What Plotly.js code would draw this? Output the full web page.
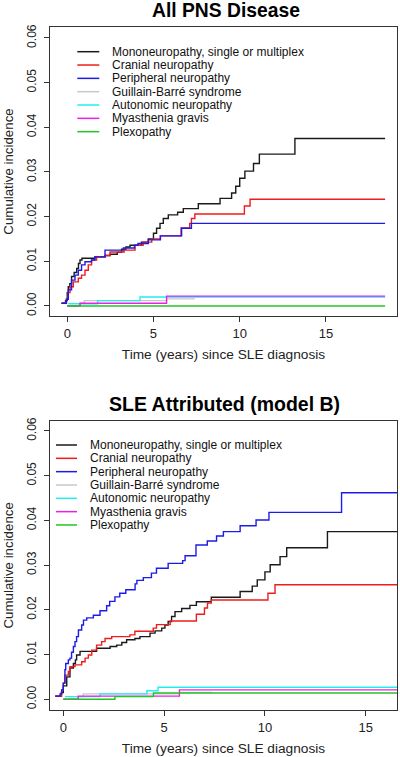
<!DOCTYPE html>
<html><head><meta charset="utf-8">
<script src="https://cdn.plot.ly/plotly-3.0.1.min.js"></script>
<style>html,body{margin:0;padding:0;background:#fff}#chart{width:400px;height:757px}</style>
</head><body><div id="chart"></div>
<script>
// ---- Data ----
const seriesNames = ["Mononeuropathy, single or multiplex","Cranial neuropathy","Peripheral neuropathy","Guillain-Barré syndrome","Autonomic neuropathy","Myasthenia gravis","Plexopathy"];
const seriesColors = ["#1a1a1a","#ee1c1c","#1c1ce8","#c8c8c8","#22eeee","#e822e8","#22c422"];
const panelTitles = ["All PNS Disease","SLE Attributed (model B)"];
const xTitle = "Time (years) since SLE diagnosis";
const yTitle = "Cumulative incidence";
const xTicks = [0,5,10,15];
const yTicks = [0,0.01,0.02,0.03,0.04,0.05,0.06];

// Panel 1: All PNS Disease
const allMonoT = [-0.35,-0.1,0,0.06,0.15,0.25,0.4,0.55,0.65,0.74,0.85,1.6,2.2,2.48,2.9,3.15,3.4,3.64,4.3,4.7,5.0,5.18,5.38,5.57,5.86,6.4,6.73,7.6,8.86,9.53,9.77,10.0,10.3,10.8,11.14,13.2,18.43];
const allMonoV = [0.0006,0.0012,0.003,0.0043,0.005,0.0066,0.0075,0.0084,0.0095,0.0103,0.0107,0.011,0.0113,0.0116,0.012,0.0127,0.0132,0.0136,0.0143,0.015,0.0163,0.0174,0.0185,0.0196,0.0204,0.021,0.0218,0.0229,0.0241,0.0253,0.0268,0.0286,0.0302,0.0319,0.034,0.0375,0.0375];
const allCranT = [-0.3,-0.05,0.05,0.16,0.35,0.64,0.83,1.03,1.22,1.41,1.7,2.2,2.48,3.3,3.93,4.4,4.9,5.4,6.6,7.1,7.2,7.4,10.27,10.6,18.43];
const allCranV = [0.0006,0.0015,0.003,0.0043,0.0054,0.0062,0.0069,0.008,0.0092,0.0103,0.011,0.0113,0.0121,0.0125,0.0136,0.0143,0.015,0.0157,0.0175,0.0185,0.0196,0.0206,0.0224,0.0239,0.0239];
const allPeriT = [-0.3,-0.05,0.06,0.25,0.45,0.64,0.83,1.03,1.41,1.6,2.19,3.25,3.9,4.1,4.7,5.4,6.63,7.2,18.43];
const allPeriV = [0.0006,0.0015,0.0036,0.0058,0.0069,0.008,0.0092,0.0099,0.0103,0.011,0.0125,0.013,0.0136,0.014,0.0148,0.0157,0.0174,0.0185,0.0185];
const allGbsT = [0,0.74,0.99,5.76,7.4];
const allGbsV = [0,0.0006,0.0012,0.0016,0.0016];
const allAutoT = [0.06,1.76,4.22,18.43];
const allAutoV = [0.0005,0.0012,0.002,0.002];
const allMgT = [0,0.74,5.76,18.43];
const allMgV = [0,0.0006,0.0022,0.0022];
const allPlexT = [0,18.43];
const allPlexV = [0,0];

// Panel 2: SLE Attributed (model B)
const sleMonoT = [-0.4,-0.1,0,0.17,0.33,0.5,0.6,0.66,0.83,1.65,2.32,2.65,2.9,3.14,3.55,3.8,4.3,4.55,4.88,5.04,5.2,5.37,5.54,5.87,6.28,6.6,7.34,8.77,9.37,9.62,10.0,10.26,10.75,11.08,13.1,18.43];
const sleMonoV = [0.0007,0.0015,0.003,0.005,0.007,0.008,0.0088,0.0099,0.0107,0.0114,0.0118,0.0121,0.0127,0.0133,0.0136,0.014,0.0148,0.0153,0.0159,0.0166,0.0174,0.0185,0.0196,0.0203,0.021,0.0218,0.0228,0.0241,0.0253,0.0267,0.0285,0.0301,0.0319,0.0339,0.0375,0.0375];
const sleCranT = [-0.4,-0.08,0,0.08,0.25,0.33,0.58,0.91,1.08,1.24,1.41,1.65,1.9,2.07,2.4,3.3,3.55,4.46,4.62,5.3,6.6,7.0,7.15,7.34,10.15,10.5,18.43];
const sleCranV = [0.0007,0.0021,0.0036,0.0054,0.0062,0.0073,0.0077,0.0084,0.0092,0.0099,0.011,0.0121,0.0129,0.0136,0.014,0.0144,0.0152,0.0159,0.0167,0.0175,0.019,0.0204,0.0215,0.0222,0.0237,0.0256,0.0256];
const slePeriT = [-0.4,-0.16,-0.08,0,0.08,0.12,0.25,0.33,0.41,0.5,0.58,0.66,0.75,0.91,1.0,1.16,1.49,1.82,2.15,2.3,2.56,2.8,3.1,3.56,3.65,3.97,4.37,4.62,5.2,5.92,6.04,6.58,7.14,7.6,7.94,8.77,9.56,10.2,13.8,18.43];
const slePeriV = [0.0007,0.0012,0.0021,0.0036,0.0066,0.008,0.0088,0.0092,0.0105,0.0118,0.0129,0.014,0.0155,0.0166,0.0177,0.0182,0.0188,0.0198,0.0209,0.0219,0.0229,0.0237,0.0245,0.0258,0.0266,0.0272,0.0282,0.0293,0.0304,0.031,0.0321,0.0345,0.0354,0.0365,0.0375,0.0388,0.0401,0.0418,0.0462,0.0462];
const sleGbsT = [0,0.74,0.99,5.76,7.36];
const sleGbsV = [0,0.0006,0.0012,0.0015,0.0015];
const sleAutoT = [0.08,1.82,4.15,4.7,18.43];
const sleAutoV = [0.0006,0.0012,0.0019,0.0027,0.0027];
const sleMgT = [0,0.74,5.76,18.43];
const sleMgV = [0,0.0007,0.0021,0.0021];
const slePlexT = [0,2.56,4.47,18.43];
const slePlexV = [0,0.0006,0.0014,0.0014];

// ---- Build ----
const W = 400, H = 757;
const FONT = "Liberation Sans, Arial, sans-serif";
const px = x => x / W;
const py = y => 1 - y / H;

const panels = [
  {T:[allMonoT,allCranT,allPeriT,allGbsT,allAutoT,allMgT,allPlexT],
   V:[allMonoV,allCranV,allPeriV,allGbsV,allAutoV,allMgV,allPlexV], xa:'x', ya:'y'},
  {T:[sleMonoT,sleCranT,slePeriT,sleGbsT,sleAutoT,sleMgT,slePlexT],
   V:[sleMonoV,sleCranV,slePeriV,sleGbsV,sleAutoV,sleMgV,slePlexV], xa:'x2', ya:'y2'}
];

const traces = [];
panels.forEach(p => {
  for (let i = 0; i < seriesNames.length; i++) {
    traces.push({
      type:'scatter', mode:'lines', x:p.T[i], y:p.V[i], name:seriesNames[i],
      xaxis:p.xa, yaxis:p.ya, showlegend:false, hoverinfo:'skip',
      line:{color:seriesColors[i], width:1.4, shape:'hv'}
    });
  }
});

function xAxis(dom, range, anchor){
  return {domain:dom, range:range, anchor:anchor, tickvals:xTicks, ticks:'outside', ticklen:5, tickwidth:1,
    tickcolor:'#333', showline:true, mirror:true, linecolor:'#333', linewidth:1.2, showgrid:false, zeroline:false,
    ticklabelstandoff:0,
    tickfont:{family:FONT,size:13,color:'#222'},
    title:{text:xTitle, font:{family:FONT,size:13.7,color:'#222'}, standoff:9}};
}
function yAxis(dom, range, anchor){
  return {domain:dom, range:range, anchor:anchor, tickvals:yTicks, tickformat:'.2f', tickangle:-90,
    ticks:'outside', ticklen:5, tickwidth:1, tickcolor:'#333', showline:true, mirror:true, linecolor:'#333',
    linewidth:1.2, showgrid:false, zeroline:false, ticklabelstandoff:3,
    tickfont:{family:FONT,size:12,color:'#222'},
    title:{text:yTitle, font:{family:FONT,size:13.3,color:'#222'}, standoff:8}};
}

const annotations = [];
const shapes = [];
const legendSpec = [
  {lineX0:77.3, lineX1:99.3, textX:110, y0:51.7},
  {lineX0:56, lineX1:77, textX:87.7, y0:445}
];
legendSpec.forEach(L => {
  seriesNames.forEach((n, i) => {
    const yy = L.y0 + i * 13.33;
    shapes.push({type:'line', xref:'paper', yref:'paper', x0:px(L.lineX0), x1:px(L.lineX1), y0:py(yy), y1:py(yy),
      line:{color:seriesColors[i], width:1.5}});
    annotations.push({xref:'paper', yref:'paper', x:px(L.textX), y:py(yy), xanchor:'left', yanchor:'middle',
      text:n, showarrow:false, font:{family:FONT, size:12, color:'#111'}});
  });
});
annotations.push({xref:'paper', yref:'paper', x:px(226), y:py(10), xanchor:'center', yanchor:'middle',
  text:'<b>'+panelTitles[0]+'</b>', showarrow:false, font:{family:FONT,size:19.3,color:'#000'}});
annotations.push({xref:'paper', yref:'paper', x:px(224), y:py(404), xanchor:'center', yanchor:'middle',
  text:'<b>'+panelTitles[1]+'</b>', showarrow:false, font:{family:FONT,size:19.5,color:'#000'}});

const layout = {
  width:W, height:H, margin:{l:0,r:0,t:0,b:0}, paper_bgcolor:'#fff', plot_bgcolor:'#fff',
  showlegend:false, font:{family:FONT},
  xaxis: xAxis([px(50), px(397)], [-1.0, 19.12], 'y'),
  yaxis: yAxis([py(316), py(27)], [-0.00224, 0.06246], 'x'),
  xaxis2: xAxis([px(50), px(397)], [-0.66, 16.55], 'y2'),
  yaxis2: yAxis([py(710), py(420.7)], [-0.0024, 0.0623], 'x2'),
  annotations: annotations, shapes: shapes
};
Plotly.newPlot('chart', traces, layout, {staticPlot:true, displayModeBar:false});
</script></body></html>
